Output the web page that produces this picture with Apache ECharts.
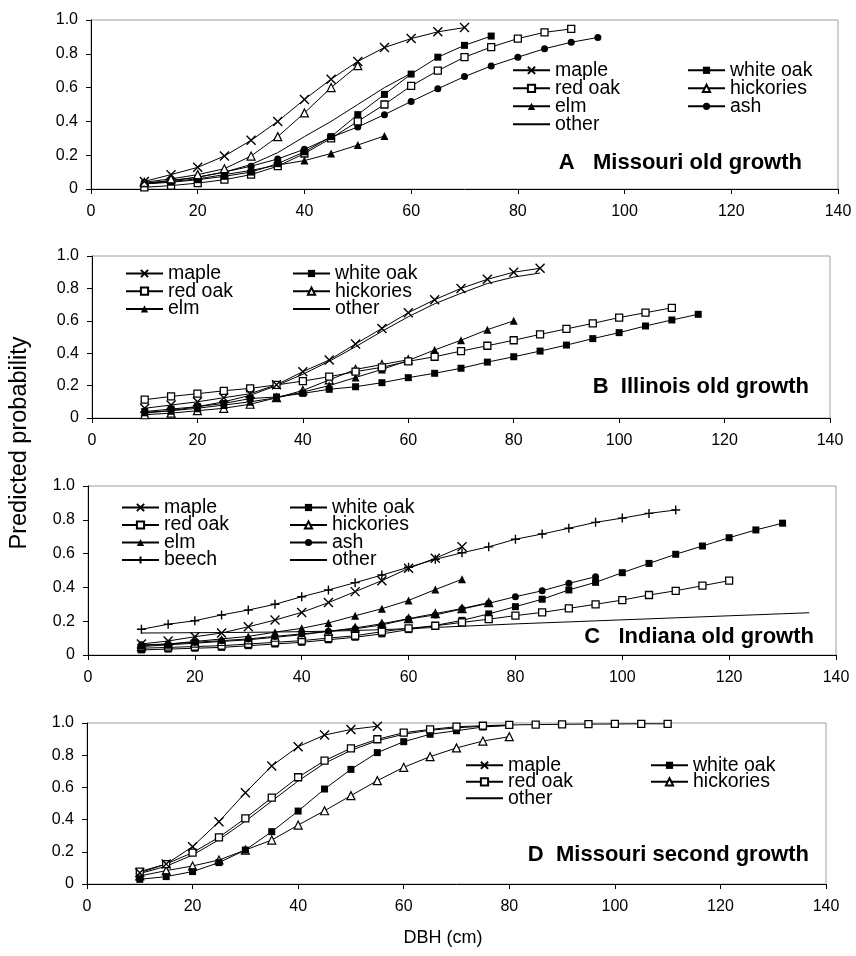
<!DOCTYPE html>
<html><head><meta charset="utf-8">
<script src="https://cdn.jsdelivr.net/npm/echarts@6/dist/echarts.min.js"></script>
<style>html,body{margin:0;padding:0;background:#fff}#c{width:856px;height:956px}</style>
</head><body><div id="c"></div>
<script>
// DBH classes (cm); every series starts at 10 cm and steps by 5 cm
const dbh = [10,15,20,25,30,35,40,45,50,55,60,65,70,75,80,85,90,95,100,105,110,115,120,125,130,135];
const xTicks = [0,20,40,60,80,100,120,140];
const yTicks = [0,0.2,0.4,0.6,0.8,1.0];

// Panel A: Missouri old growth
const A_maple     = [0.045,0.085,0.128,0.195,0.288,0.40,0.53,0.65,0.755,0.837,0.89,0.93,0.955];
const A_whiteOak  = [0.03,0.04,0.055,0.075,0.10,0.15,0.22,0.31,0.44,0.56,0.68,0.78,0.85,0.905];
const A_redOak    = [0.01,0.02,0.035,0.055,0.085,0.135,0.21,0.30,0.40,0.50,0.61,0.70,0.78,0.84,0.89,0.927,0.947];
const A_hickories = [0.04,0.06,0.085,0.12,0.195,0.31,0.45,0.60,0.73];
const A_elm       = [0.03,0.045,0.06,0.085,0.11,0.142,0.168,0.21,0.26,0.314];
const A_ash       = [0.035,0.05,0.07,0.10,0.135,0.178,0.235,0.306,0.367,0.44,0.518,0.593,0.665,0.728,0.78,0.83,0.868,0.897];
const A_other     = [0.03,0.05,0.07,0.10,0.145,0.215,0.31,0.40,0.50,0.60,0.685];

// Panel B: Illinois old growth
const B_maple     = [0.06,0.08,0.10,0.125,0.15,0.205,0.286,0.358,0.457,0.553,0.65,0.73,0.80,0.856,0.90,0.924];
const B_whiteOak  = [0.04,0.055,0.07,0.09,0.12,0.13,0.152,0.177,0.193,0.218,0.249,0.276,0.307,0.345,0.378,0.413,0.45,0.49,0.527,0.568,0.605,0.64];
const B_redOak    = [0.113,0.133,0.15,0.168,0.183,0.204,0.228,0.255,0.286,0.313,0.35,0.378,0.413,0.446,0.48,0.516,0.55,0.584,0.62,0.65,0.68];
const B_hickories = [0.02,0.03,0.045,0.06,0.085,0.125,0.17,0.235,0.30,0.33,0.36];
const B_elm       = [0.035,0.045,0.06,0.08,0.10,0.125,0.16,0.20,0.25,0.30,0.355,0.42,0.48,0.545,0.60];
const B_other     = [0.03,0.045,0.07,0.10,0.14,0.20,0.27,0.35,0.44,0.535,0.625,0.705,0.77,0.83,0.87,0.895];

// Panel C: Indiana old growth
const C_maple     = [0.065,0.083,0.108,0.13,0.167,0.207,0.252,0.31,0.375,0.44,0.513,0.572,0.64];
const C_whiteOak  = [0.03,0.035,0.04,0.045,0.055,0.065,0.075,0.09,0.105,0.125,0.15,0.175,0.205,0.243,0.286,0.33,0.385,0.43,0.487,0.542,0.596,0.645,0.694,0.74,0.78];
const C_redOak    = [0.04,0.045,0.05,0.055,0.065,0.075,0.085,0.10,0.114,0.138,0.158,0.173,0.193,0.212,0.233,0.252,0.276,0.30,0.325,0.355,0.38,0.41,0.44];
const C_hickories = [0.05,0.06,0.07,0.08,0.09,0.105,0.12,0.14,0.16,0.185,0.215,0.245,0.275,0.31];
const C_elm       = [0.055,0.065,0.08,0.095,0.11,0.135,0.158,0.19,0.232,0.274,0.323,0.387,0.448];
const C_ash       = [0.06,0.065,0.075,0.085,0.095,0.11,0.125,0.14,0.155,0.178,0.213,0.237,0.272,0.306,0.345,0.38,0.424,0.463];
const C_beech     = [0.152,0.182,0.203,0.237,0.266,0.30,0.345,0.385,0.428,0.473,0.519,0.566,0.605,0.64,0.685,0.716,0.75,0.785,0.81,0.838,0.858];
const C_other     = [0.13,0.131,0.132,0.133,0.134,0.136,0.138,0.141,0.145,0.15,0.156,0.163,0.17,0.177,0.184,0.19,0.196,0.202,0.208,0.214,0.22,0.226,0.232,0.238,0.244,0.25];

// Panel D: Missouri second growth
const D_maple     = [0.07,0.124,0.232,0.387,0.567,0.733,0.853,0.925,0.96,0.98];
const D_whiteOak  = [0.029,0.046,0.077,0.133,0.211,0.325,0.453,0.59,0.712,0.816,0.884,0.93,0.952,0.975,0.985];
const D_redOak    = [0.077,0.124,0.195,0.29,0.408,0.536,0.663,0.766,0.843,0.899,0.94,0.96,0.977,0.983,0.988,0.99,0.992,0.993,0.994,0.995,0.995];
const D_hickories = [0.05,0.083,0.112,0.149,0.211,0.273,0.366,0.455,0.549,0.642,0.725,0.791,0.845,0.888,0.915];
const D_other     = [0.065,0.11,0.18,0.275,0.39,0.515,0.64,0.75,0.83,0.89,0.93,0.955,0.97,0.98,0.985];

const panelTitles = ['A   Missouri old growth','B  Illinois old growth','C   Indiana old growth','D  Missouri second growth'];
const yTitle = 'Predicted probability';
const xTitle = 'DBH (cm)';

const FONT = '"Liberation Sans", Arial, sans-serif';

const sym = {
  'maple':     {symbol:'path://M0,0L10,10M10,0L0,10', size:9, fill:'#000', stroke:'#000', bw:1.4},
  'white oak': {symbol:'rect', size:7, fill:'#000', stroke:'#000', bw:0},
  'red oak':   {symbol:'path://M0,0H10V10H0Z', size:7, fill:'#fff', stroke:'#000', bw:1.3},
  'hickories': {symbol:'path://M5,0L10,9H0Z', size:8, fill:'#fff', stroke:'#000', bw:1.2},
  'elm':       {symbol:'path://M5,0L10,9H0Z', size:8, fill:'#000', stroke:'#000', bw:0},
  'ash':       {symbol:'circle', size:7, fill:'#000', stroke:'#000', bw:0},
  'beech':     {symbol:'path://M5,0V10M0,5H10', size:9, fill:'#000', stroke:'#000', bw:1.4},
  'other':     {symbol:'none', size:0, fill:'rgba(0,0,0,0)', stroke:'rgba(0,0,0,0)', bw:0}
};

function mk(name, vals, g) {
  const s = sym[name];
  return {
    type:'line', name, xAxisIndex:g, yAxisIndex:g,
    data: vals.map((v,i)=>[dbh[i], v]),
    symbol: s.symbol, symbolSize: s.size, showSymbol: s.symbol !== 'none',
    lineStyle:{color:'#000', width:1},
    itemStyle:{color:s.fill, borderColor:s.stroke, borderWidth:s.bw},
    emphasis:{disabled:true}, animation:false, silent:true,
    z: name === 'other' ? 1 : 2
  };
}

const grids = [
  {left:91, top:20, width:747, height:169},
  {left:92, top:256, width:738, height:162},
  {left:88, top:486, width:748, height:169},
  {left:87, top:723, width:739, height:161}
];

const series = [
  mk('other',A_other,0), mk('elm',A_elm,0), mk('ash',A_ash,0), mk('red oak',A_redOak,0), mk('white oak',A_whiteOak,0), mk('hickories',A_hickories,0), mk('maple',A_maple,0),
  mk('other',B_other,1), mk('hickories',B_hickories,1), mk('elm',B_elm,1), mk('white oak',B_whiteOak,1), mk('red oak',B_redOak,1), mk('maple',B_maple,1),
  mk('other',C_other,2), mk('white oak',C_whiteOak,2), mk('red oak',C_redOak,2), mk('hickories',C_hickories,2), mk('ash',C_ash,2), mk('elm',C_elm,2), mk('maple',C_maple,2), mk('beech',C_beech,2),
  mk('other',D_other,3), mk('hickories',D_hickories,3), mk('white oak',D_whiteOak,3), mk('red oak',D_redOak,3), mk('maple',D_maple,3)
];

function lg(left, top, gap, names) {
  return {
    orient:'vertical', left, top, itemGap:gap, itemWidth:37, itemHeight:9,
    padding:0, selectedMode:false, data:names,
    textStyle:{fontFamily:FONT, fontSize:19.5, color:'#000', lineHeight:17}
  };
}

const legends = [
  lg(512, 60.3, -2, ['maple','red oak','elm','other']),
  lg(687, 60.3, -2, ['white oak','hickories','ash']),
  lg(125, 263.5, -2.3, ['maple','red oak','elm']),
  lg(292, 263.5, -2.3, ['white oak','hickories','other']),
  lg(121, 497.5, -2.5, ['maple','red oak','elm','beech']),
  lg(289, 497.5, -2.5, ['white oak','hickories','ash','other']),
  lg(465, 755.3, -3.5, ['maple','red oak','other']),
  lg(650, 755.3, -3.5, ['white oak','hickories'])
];

const titleRight = [54, 47, 42, 47];
const titleTop = [152, 376, 626, 844];
const titles = panelTitles.map((t,i)=>({
  text:t, right:titleRight[i], top:titleTop[i], padding:0,
  textStyle:{fontFamily:FONT, fontSize:22, fontWeight:'bold', color:'#000', lineHeight:22}
}));

const chart = echarts.init(document.getElementById('c'), null, {renderer:'canvas'});
chart.setOption({
  animation:false,
  backgroundColor:'#fff',
  title: titles,
  legend: legends,
  grid: grids.map(g=>Object.assign({show:true, borderColor:'#a0a0a0', borderWidth:1, containLabel:false, outerBoundsMode:'none'}, g)),
  xAxis: grids.map((g,i)=>({
    type:'value', gridIndex:i, min:xTicks[0], max:xTicks[xTicks.length-1], interval:xTicks[1]-xTicks[0],
    axisLine:{show:true, onZero:false, lineStyle:{color:'#000', width:1}},
    axisTick:{show:true, length:5, lineStyle:{color:'#000'}},
    axisLabel:{fontFamily:FONT, fontSize:16, color:'#000', margin:15},
    splitLine:{show:false}
  })),
  yAxis: grids.map((g,i)=>({
    type:'value', gridIndex:i, min:yTicks[0], max:yTicks[yTicks.length-1], interval:yTicks[1]-yTicks[0],
    axisLine:{show:true, onZero:false, lineStyle:{color:'#000', width:1}},
    axisTick:{show:true, length:5, lineStyle:{color:'#000'}},
    axisLabel:{fontFamily:FONT, fontSize:16, color:'#000', margin:13,
      formatter:v=> v===0 ? '0' : v.toFixed(1)},
    splitLine:{show:false}
  })),
  graphic:[
    {type:'text', x:20, y:443, rotation:Math.PI/2,
     style:{text:yTitle, font:'23.5px '+FONT, fill:'#000', textAlign:'center', textVerticalAlign:'middle'}},
    {type:'text', x:443, y:938,
     style:{text:xTitle, font:'18px '+FONT, fill:'#000', textAlign:'center', textVerticalAlign:'middle'}}
  ],
  series
});
</script></body></html>
